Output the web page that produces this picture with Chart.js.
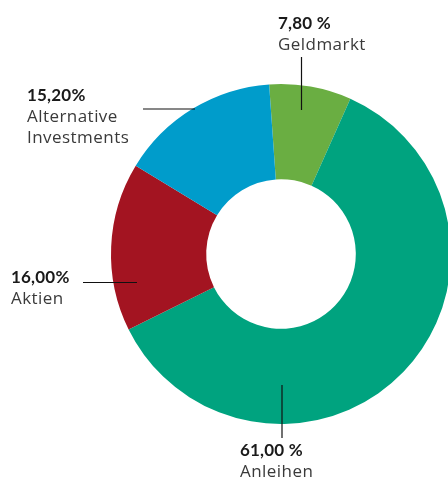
<!DOCTYPE html>
<html lang="de">
<head>
    <meta charset="UTF-8">
    <title>Asset Allocation</title>
    <script src="https://cdn.jsdelivr.net/npm/chart.js"></script>
    <style>
        html, body {
            margin: 0;
            padding: 0;
            width: 448px;
            height: 480px;
            overflow: hidden;
            background: #fff;
            font-family: "Open Sans", "Noto Sans", sans-serif;
        }
        #wrap {
            position: absolute;
            left: 0;
            top: 0;
            width: 460px;
            height: 480px;
        }
        .label {
            position: absolute;
            color: #3a3a3a;
            font-size: 17px;
            line-height: 21px;
            letter-spacing: 0.45px;
            white-space: nowrap;
        }
        .label b {
            color: #1a1a1a;
            font-family: Lato, "Open Sans", sans-serif;
            font-size: 17px;
            font-weight: 700;
            letter-spacing: 0.2px;
        }
    </style>
</head>
<body>
    <div id="wrap"><canvas id="donut"></canvas></div>

    <script>
        // data
        const categories = ['Geldmarkt', 'Anleihen', 'Aktien', 'Alternative\nInvestments'];
        const shares = [7.8, 61.0, 16.0, 15.2];
        const shareText = ['7,80 %', '61,00 %', '16,00%', '15,20%'];
        const colors = ['#6aae42', '#00a37f', '#a31421', '#009ccb'];

        // label boxes and leader lines (layout only)
        const labelPos = [
            { left: 278, top: 12, line: [301.5, 57, 301.5, 110] },
            { left: 240, top: 439, line: [282, 385, 282, 438] },
            { left: 11,  top: 265.5, line: [83, 282.5, 137, 282.5] },
            { left: 27,  top: 84,  line: [143, 109, 195, 109] }
        ];

        const leaderLines = {
            id: 'leaderLines',
            afterDraw(chart) {
                const ctx = chart.ctx;
                ctx.save();
                ctx.strokeStyle = '#111';
                ctx.lineWidth = 1.2;
                labelPos.forEach(p => {
                    const [x1, y1, x2, y2] = p.line;
                    ctx.beginPath();
                    ctx.moveTo(x1, y1);
                    ctx.lineTo(x2, y2);
                    ctx.stroke();
                });
                ctx.restore();
            }
        };

        new Chart(document.getElementById('donut'), {
            type: 'doughnut',
            data: {
                labels: categories,
                datasets: [{
                    data: shares,
                    backgroundColor: colors,
                    borderWidth: 0
                }]
            },
            options: {
                responsive: true,
                maintainAspectRatio: false,
                animation: false,
                rotation: -4,
                cutout: '44%',
                layout: { padding: { left: 111, right: 9, top: 84, bottom: 56 } },
                plugins: {
                    legend: { display: false },
                    tooltip: { enabled: false }
                }
            },
            plugins: [leaderLines]
        });

        // text labels as html
        categories.forEach((name, i) => {
            const div = document.createElement('div');
            div.className = 'label';
            div.style.left = labelPos[i].left + 'px';
            div.style.top = labelPos[i].top + 'px';
            div.innerHTML = '<b>' + shareText[i] + '</b><br>' + name.replace('\n', '<br>');
            document.body.appendChild(div);
        });
    </script>
</body>
</html>
